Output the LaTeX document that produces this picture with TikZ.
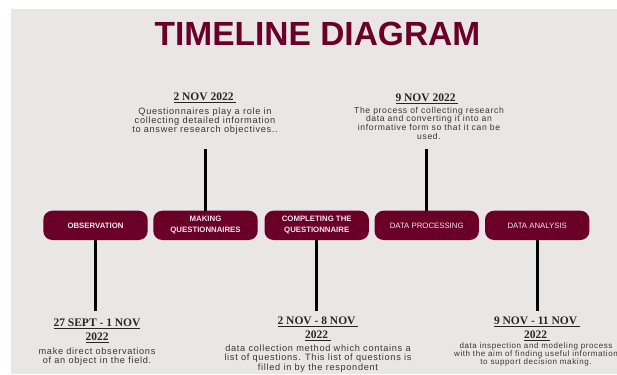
\documentclass[tikz,border=0pt]{standalone}
\usepackage{fontspec}
\setmainfont{Liberation Sans}
\newfontfamily\datefont{Liberation Serif}
\newfontfamily\descfont{Liberation Sans}[LetterSpace=7.5]
\newfontfamily\boxfont{Liberation Sans}
\definecolor{maroonc}{HTML}{6A0028}
\definecolor{bgc}{HTML}{EAE6E5}
\definecolor{descc}{HTML}{363636}
\definecolor{boxtxt}{HTML}{F2E6EA}
\tikzset{
  stagebox/.style={fill=maroonc, rounded corners=9pt, minimum width=104.4pt, minimum height=29.3pt,
    inner sep=0pt, text=boxtxt, align=center, font=\boxfont\fontsize{7.8}{11}\selectfont},
  stem/.style={line width=2.8pt, black},
  datetxt/.style={anchor=north, inner sep=0pt, align=center, text=black!85,
    font=\datefont\bfseries\fontsize{11.5}{13.7}\selectfont},
  desctxt/.style={anchor=north, inner sep=0pt, align=center, text=descc,
    font=\descfont\fontsize{9.2}{9.2}\selectfont},
  titletxt/.style={inner sep=0pt, text=maroonc, font=\bfseries\fontsize{33.5}{36}\selectfont}
}
\begin{document}
\begin{tikzpicture}[x=1pt,y=-1pt]
\useasboundingbox (0,0) rectangle (617,374);
\fill[bgc] (11,9) rectangle (617,374);

\node[titletxt] (title) at (317.5,33.7) {TIMELINE DIAGRAM};

\node[stagebox] (b1) at (95.5,225.35) {\bfseries OBSERVATION};
\node[stagebox] (b2) at (205.5,225.35) {\bfseries MAKING\\\bfseries QUESTIONNAIRES};
\node[stagebox] (b3) at (316.7,225.35) {\bfseries COMPLETING THE\\\bfseries QUESTIONNAIRE};
\node[stagebox] (b4) at (426.7,225.35) {DATA PROCESSING};
\node[stagebox] (b5) at (537.2,225.35) {DATA ANALYSIS};

\coordinate (e1) at (95.5,311);
\coordinate (e2) at (205.5,149);
\coordinate (e3) at (316.7,311);
\coordinate (e4) at (426.7,149);
\coordinate (e5) at (537.2,311);
\draw[stem] (b1.south) -- (e1);
\draw[stem] (b2.north) -- (e2);
\draw[stem] (b3.south) -- (e3);
\draw[stem] (b4.north) -- (e4);
\draw[stem] (b5.south) -- (e5);

% dates
\node[datetxt] (d1) at (97,319) {\underline{27 SEPT - 1 NOV}\\\underline{2022}};
\node[datetxt] (d2) at (205,92.8) {\underline{2 NOV 2022\ }};
\node[datetxt] (d3) at (318,316.8) {\underline{2 NOV - 8 NOV\ }\\\underline{2022\ }};
\node[datetxt] (d4) at (427,93.8) {\underline{9 NOV 2022\ }};
\node[datetxt] (d5) at (537,316.8) {\underline{9 NOV - 11 NOV\ }\\\underline{2022\ }};

% descriptions
\node[desctxt] (t1) at (97,347.7) {make direct observations\\of an object in the field.};
\node[desctxt] (t2) at (205,107.4) {Questionnaires play a role in\\collecting detailed information\\to answer research objectives..};
\node[desctxt, font=\descfont\fontsize{9.2}{9.35}\selectfont] (t3) at (318,344.7) {data collection method which contains a\\list of questions. This list of questions is\\filled in by the respondent};
\node[desctxt, font=\descfont\fontsize{8.6}{8.7}\selectfont] (t4) at (429,106.7) {The process of collecting research\\data and converting it into an\\informative form so that it can be\\used.};
\node[desctxt, font=\descfont\fontsize{8}{8}\selectfont] (t5) at (536,342.8) {data inspection and modeling process\\with the aim of finding useful information\\to support decision making.};
\end{tikzpicture}
\end{document}
